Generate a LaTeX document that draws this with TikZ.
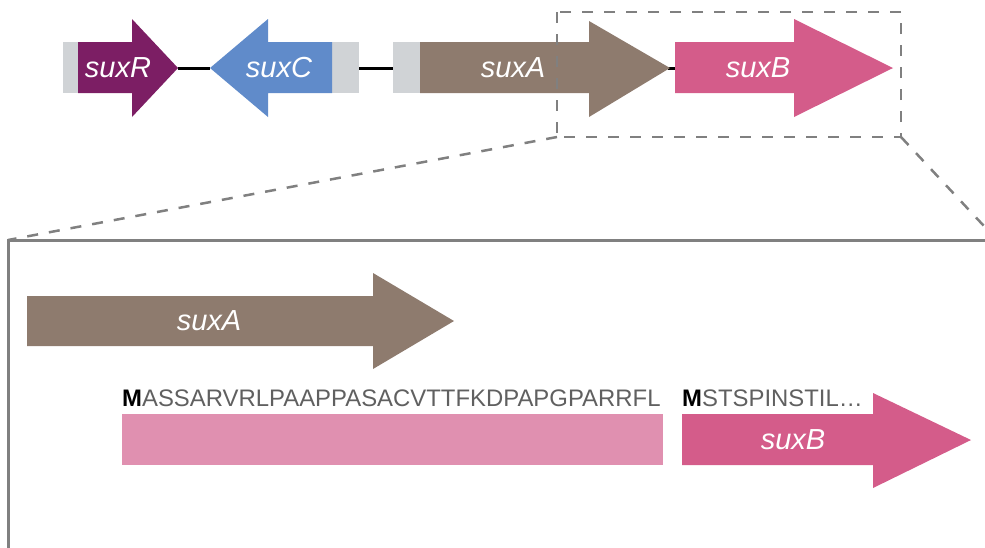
\documentclass[tikz,border=0pt]{standalone}
\usepackage{fontspec}
\setmainfont{Liberation Sans}

\definecolor{suxRcol}{RGB}{124,30,100}
\definecolor{suxCcol}{RGB}{96,139,202}
\definecolor{suxAcol}{RGB}{142,123,110}
\definecolor{suxBcol}{RGB}{212,92,138}
\definecolor{lightpink}{RGB}{224,144,176}
\definecolor{padgray}{RGB}{208,211,214}
\definecolor{framegray}{RGB}{128,128,128}
\definecolor{seqgray}{RGB}{96,96,96}

\tikzset{
  genelabel/.style={text=white, font=\fontsize{29}{29}\selectfont\itshape, inner sep=0pt},
  seqtext/.style={text=seqgray, font=\fontsize{23.9}{24}\selectfont, inner sep=0pt, anchor=base west},
  linkline/.style={draw=black, line width=3pt},
  zoomline/.style={draw=framegray, line width=2.5pt, dash pattern=on 11pt off 11pt},
}

\begin{document}
\begin{tikzpicture}[x=1pt,y=-1pt]
    \useasboundingbox (0,0) rectangle (985,547);
    \clip (0,0) rectangle (985,547);

    % Серые вставки (некодирующие участки)
    \fill[padgray] (63,42) rectangle (78,93);
    \fill[padgray] (332,42) rectangle (359,93);
    \fill[padgray] (393,42) rectangle (420,93);

    % Концы генов для линий
    \coordinate (rEnd) at (178,68);
    \coordinate (cEnd) at (210,68);
    \coordinate (cPad) at (359,68);
    \coordinate (aPad) at (393,68);
    \coordinate (aEnd) at (668,68);
    \coordinate (bEnd) at (677,68);

    % Линии между генами
    \draw[linkline] (rEnd) -- (cEnd);
    \draw[linkline] (cPad) -- (aPad);
    \draw[linkline] (aEnd) -- (bEnd);

    % Верхний ряд генов
    \fill[suxRcol] (78,42) -- (132,42) -- (132,19) -- (178,68) -- (132,117) -- (132,93) -- (78,93) -- cycle;
    \fill[suxCcol] (332,42) -- (268,42) -- (268,19) -- (210,68) -- (268,117) -- (268,93) -- (332,93) -- cycle;
    \fill[suxAcol] (420,42) -- (589,42) -- (589,21) -- (670,68) -- (589,117) -- (589,93) -- (420,93) -- cycle;
    \fill[suxBcol] (675,42) -- (794,42) -- (794,19) -- (893,68) -- (794,117) -- (794,93) -- (675,93) -- cycle;

    \node[genelabel] (suxR) at (118,68) {suxR};
    \node[genelabel] (suxC) at (279,68) {suxC};
    \node[genelabel] (suxA) at (513,68) {suxA};
    \node[genelabel] (suxB) at (758,68) {suxB};

    % Увеличенная область
    \coordinate (zoomTL) at (557,12);
    \coordinate (zoomBR) at (901,137);
    \coordinate (zoomBL) at (557,137);
    \coordinate (frameTL) at (8,240);
    \coordinate (frameTR) at (997,240);
    \draw[zoomline] (zoomTL) rectangle (zoomBR);
    \draw[zoomline] (zoomBL) -- (frameTL);
    \draw[zoomline] (zoomBR) -- (frameTR);

    % Рамка
    \draw[framegray, line width=3pt] (8,560) -- (frameTL) -- (1000,240);

    % Нижний ряд
    \fill[suxAcol] (27,296) -- (373,296) -- (373,273) -- (454,321) -- (373,369) -- (373,346) -- (27,346) -- cycle;
    \node[genelabel] (suxAbig) at (209,321) {suxA};

    \fill[lightpink] (122,414) rectangle (663,465);
    \fill[suxBcol] (682,414) -- (873,414) -- (873,393) -- (971,440) -- (873,488) -- (873,465) -- (682,465) -- cycle;
    \node[genelabel] (suxBbig) at (793,440) {suxB};

    % Аминокислотные последовательности
    \node[seqtext] (seqA) at (122,406) {{\bfseries\color{black}M}ASSARVRLPAAPPASACVTTFKDPAPGPARRFL};
    \node[seqtext] (seqB) at (682,406) {{\bfseries\color{black}M}STSPINSTIL…};
\end{tikzpicture}
\end{document}
